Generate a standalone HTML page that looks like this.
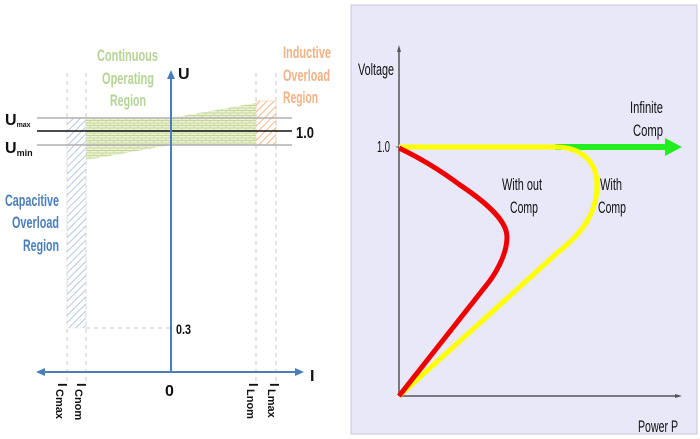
<!DOCTYPE html>
<html><head><style>body{margin:0;background:#fff}svg{display:block}</style></head><body>
<svg width="700" height="439" viewBox="0 0 700 439" xmlns="http://www.w3.org/2000/svg" font-family="Liberation Sans, sans-serif">
<defs>
<pattern id="hb" width="5" height="5" patternUnits="userSpaceOnUse" patternTransform="rotate(45)"><line x1="0" y1="0" x2="0" y2="5" stroke="#b8c8e0" stroke-width="2"/></pattern>
<pattern id="ho" width="5" height="5" patternUnits="userSpaceOnUse" patternTransform="rotate(45)"><line x1="0" y1="0" x2="0" y2="5" stroke="#f4a060" stroke-width="1.5"/></pattern>
<pattern id="br" width="8" height="5" patternUnits="userSpaceOnUse"><rect width="8" height="5" fill="#eef3d8"/><path d="M0 0.5H8M0 3H8M2 0V3M6 3V5" stroke="#c5d89a" stroke-width="1"/></pattern>
</defs>
<g fill="none" stroke="#c8c8c8" stroke-dasharray="4,4" stroke-width="1">
<line x1="67" y1="73" x2="67" y2="385"/><line x1="86" y1="73" x2="86" y2="385"/>
<line x1="256" y1="73" x2="256" y2="385"/><line x1="276" y1="73" x2="276" y2="385"/>
<line x1="86" y1="328" x2="171" y2="328"/>
</g>
<rect x="67" y="118" width="19" height="210" fill="url(#hb)" stroke="#dde6f2" stroke-width="0.5"/>
<polygon points="86,118 171,118 256,103 256,145 171,145 86,160" fill="url(#br)"/>
<rect x="256" y="101" width="20" height="44" fill="url(#ho)" stroke="#f4c7a0" stroke-width="0.5"/>
<line x1="37" y1="118" x2="292" y2="118" stroke="#b0b0b0" stroke-width="1.5"/>
<line x1="37" y1="145" x2="292" y2="145" stroke="#b0b0b0" stroke-width="1.5"/>
<line x1="37" y1="131" x2="292" y2="131" stroke="#111" stroke-width="1.5"/>
<line x1="171" y1="372" x2="171" y2="76" stroke="#4a7ebb" stroke-width="2"/>
<polygon points="171,70 167,79 175,79" fill="#4a7ebb"/>
<line x1="42" y1="372" x2="298" y2="372" stroke="#4a7ebb" stroke-width="2"/>
<polygon points="36,372 45,368 45,376" fill="#4a7ebb"/><polygon points="304,372 295,368 295,376" fill="#4a7ebb"/>
<g font-weight="bold" font-size="16" fill="#111">
<text x="178" y="79">U</text><text x="296" y="138" textLength="18" lengthAdjust="spacingAndGlyphs">1.0</text><text x="176" y="334" font-size="14" textLength="15" lengthAdjust="spacingAndGlyphs">0.3</text>
<text x="310" y="381">I</text><text x="165" y="396">0</text>
<text x="5" y="125">U<tspan font-size="7" dy="2">max</tspan></text>
<text x="5" y="153">U<tspan font-size="9" dy="3">min</tspan></text>
</g>
<g font-weight="bold" font-size="13" fill="#111">
<text transform="translate(58,383) rotate(90)">I</text><text transform="translate(56,389) rotate(90)" font-size="11">Cmax</text>
<text transform="translate(77,383) rotate(90)">I</text><text transform="translate(75,389) rotate(90)" font-size="11">Cnom</text>
<text transform="translate(249,383) rotate(90)">I</text><text transform="translate(247,389) rotate(90)" font-size="11">Lnom</text>
<text transform="translate(270,383) rotate(90)">I</text><text transform="translate(268,389) rotate(90)" font-size="11">Lmax</text>
</g>
<g font-weight="bold" font-size="17">
<g fill="#b4d494"><text x="97" y="61" textLength="61" lengthAdjust="spacingAndGlyphs">Continuous</text><text x="102" y="84" textLength="52" lengthAdjust="spacingAndGlyphs">Operating</text><text x="110" y="106" textLength="36" lengthAdjust="spacingAndGlyphs">Region</text></g>
<g fill="#f4b183"><text x="283" y="58" textLength="48" lengthAdjust="spacingAndGlyphs">Inductive</text><text x="283" y="81" textLength="47" lengthAdjust="spacingAndGlyphs">Overload</text><text x="283" y="103" textLength="35" lengthAdjust="spacingAndGlyphs">Region</text></g>
<g fill="#4a7ebb"><text x="5" y="206" textLength="54" lengthAdjust="spacingAndGlyphs">Capacitive</text><text x="12" y="228" textLength="47" lengthAdjust="spacingAndGlyphs">Overload</text><text x="23" y="251" textLength="36" lengthAdjust="spacingAndGlyphs">Region</text></g>
</g>
<rect x="351" y="5" width="346" height="429" fill="#e8e8f8" stroke="#c8c8d8"/>
<line x1="399" y1="396" x2="399" y2="50" stroke="#555" stroke-width="1.5"/><polygon points="399,45 397,52 401,52" fill="#555"/>
<line x1="399" y1="396" x2="677" y2="396" stroke="#555" stroke-width="1.5"/><polygon points="682,396 675,394 675,398" fill="#555"/>
<line x1="396" y1="147" x2="399" y2="147" stroke="#555"/>
<line x1="555" y1="147" x2="668" y2="147" stroke="#22ee22" stroke-width="6"/>
<polygon points="682,147 665,138 665,156" fill="#22ee22"/>
<path d="M399,147 L555,147 C585,147 597,165 597,185 C597,215 580,235 557,253 L513,293 L399,396" fill="none" stroke="#ffff00" stroke-width="5"/>
<path d="M399,148 C420,158 440,170 460,185 C490,205 507,222 507,237 C507,255 495,275 485,287 L399,396" fill="none" stroke="#ee0000" stroke-width="5"/>
<g font-size="17" fill="#111">
<text x="358" y="75" textLength="36" lengthAdjust="spacingAndGlyphs">Voltage</text><text x="377" y="152" font-size="16" textLength="13" lengthAdjust="spacingAndGlyphs">1.0</text>
<text x="630" y="113" textLength="33" lengthAdjust="spacingAndGlyphs">Infinite</text><text x="633" y="136" textLength="30" lengthAdjust="spacingAndGlyphs">Comp</text>
<text x="502" y="190" textLength="40" lengthAdjust="spacingAndGlyphs">With out</text><text x="510" y="213" textLength="28" lengthAdjust="spacingAndGlyphs">Comp</text>
<text x="600" y="190" textLength="22" lengthAdjust="spacingAndGlyphs">With</text><text x="598" y="213" textLength="28" lengthAdjust="spacingAndGlyphs">Comp</text>
<text x="638" y="432" textLength="40" lengthAdjust="spacingAndGlyphs">Power P</text>
</g>
</svg>
</body></html>
